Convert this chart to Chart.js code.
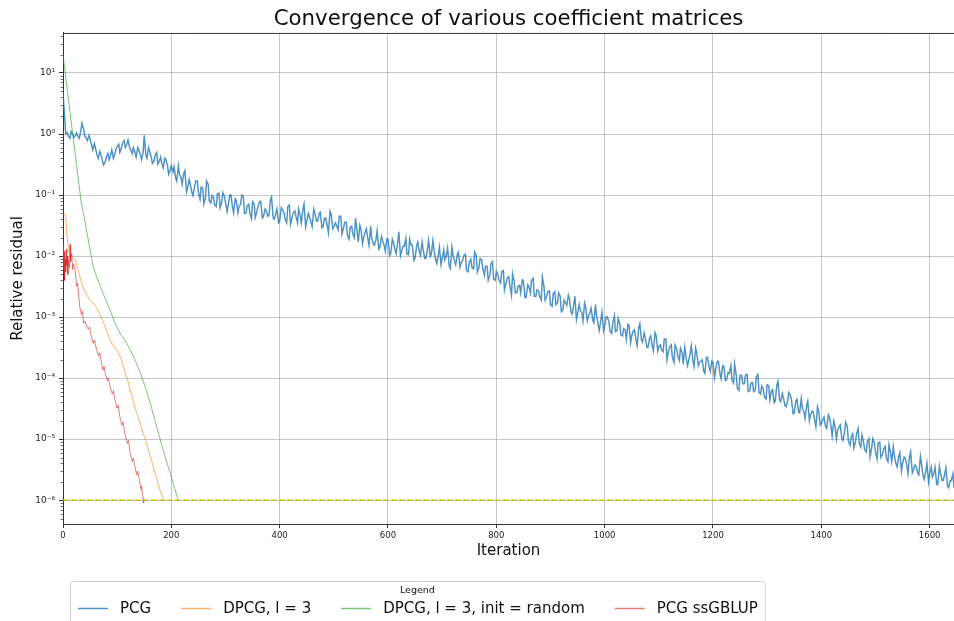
<!DOCTYPE html>
<html>
<head>
<meta charset="utf-8">
<script src="https://cdn.jsdelivr.net/npm/chart.js@4.4.1/dist/chart.umd.min.js"></script>
<style>
  html, body { margin: 0; padding: 0; background: #fff; }
  #wrap { width: 954px; height: 621px; position: relative; }
</style>
</head>
<body>
<div id="wrap"><canvas id="c" width="954" height="621"></canvas></div>
<script>
// ---- data -------------------------------------------------------------
const seriesLabels = ['PCG', 'DPCG, l = 3', 'DPCG, l = 3, init = random', 'PCG ssGBLUP'];
const seriesColors = ['rgba(31,119,180,0.8)', 'rgba(255,127,14,0.62)', 'rgba(44,160,44,0.62)', 'rgba(214,39,40,0.6)'];
const seriesWidths = [1.45, 1, 1, 1];

// PCG relative residual: one record at iterations 0, 5, 10, ... and one at 3, 8, 13, ...
const pcgStep = 5;
const pcgOffset = 3;
const pcgResidual = [
  4.6, 1.0, 0.92, 1.1, 0.88, 1.05, 0.85, 1.5, 0.95, 0.78,
  0.82, 0.55, 0.58, 0.4, 0.46, 0.31, 0.42, 0.38, 0.55, 0.45,
  0.62, 0.5, 0.72, 0.6, 0.8, 0.55, 0.6, 0.42, 0.55, 0.38,
  0.95, 0.4, 0.52, 0.33, 0.45, 0.32, 0.42, 0.28, 0.38, 0.22,
  0.3,
  2.9e-1, 1.7e-1, 2.2e-1, 1.5e-1, 2.5e-1, 1.3e-1, 1.5e-1, 9.8e-2, 1.7e-1, 1.1e-1,
  1.35e-1, 7.2e-2, 1.7e-1, 8.1e-2, 9.8e-2, 6.9e-2, 1.05e-1, 6.2e-2, 1.1e-1, 7.6e-2,
  6.9e-2, 1.0e-1, 5.1e-2, 8.1e-2, 6.5e-2, 1.0e-1, 5.0e-2, 6.6e-2, 5.1e-2, 7.8e-2,
  4.3e-2, 6.5e-2, 7.9e-2, 4.4e-2, 5.6e-2, 4.6e-2, 9.3e-2, 4.0e-2, 5.9e-2, 3.7e-2,
  5.8e-2, 4.0e-2, 6.5e-2, 3.3e-2, 5.1e-2, 4.5e-2, 5.9e-2, 3.5e-2, 7.1e-2, 3.7e-2,
  4.4e-2, 3.0e-2, 5.1e-2, 3.7e-2, 5.2e-2, 3.0e-2, 4.2e-2, 2.4e-2, 4.9e-2, 3.0e-2,
  3.2e-2, 4.5e-2, 2.3e-2, 3.6e-2, 2.2e-2, 2.9e-2, 2.3e-2, 4.2e-2, 1.7e-2, 2.8e-2,
  2.0e-2, 2.8e-2, 1.5e-2, 2.0e-2, 1.5e-2, 2.6e-2, 1.4e-2, 1.8e-2, 1.2e-2, 1.9e-2,
  1.1e-2, 1.7e-2, 1.1e-2, 2.5e-2, 1.2e-2, 1.45e-2, 1.07e-2, 1.9e-2, 1.5e-2, 9.3e-3,
  1.7e-2, 1.02e-2, 1.26e-2, 9.1e-3, 1.8e-2, 1.07e-2, 1.26e-2, 7.6e-3, 1.4e-2, 9.1e-3,
  8.7e-3, 1.35e-2, 6.3e-3, 1.05e-2, 7.2e-3, 1.15e-2, 7.8e-3, 1.02e-2, 5.8e-3, 7.9e-3,
  6.5e-3, 1.17e-2, 5.5e-3, 9.1e-3, 6.3e-3, 6.8e-3, 4.0e-3, 7.4e-3, 4.2e-3, 5.6e-3,
  4.0e-3, 5.6e-3, 2.8e-3, 4.3e-3, 3.3e-3, 5.1e-3, 2.5e-3, 3.2e-3, 2.5e-3, 3.9e-3,
  2.1e-3, 3.2e-3, 4.0e-3, 2.2e-3, 2.8e-3, 2.2e-3, 4.5e-3, 1.9e-3, 2.6e-3, 1.6e-3,
  2.4e-3, 1.6e-3, 2.5e-3, 1.23e-3, 1.9e-3, 1.55e-3, 2.0e-3, 1.12e-3, 2.2e-3, 1.12e-3,
  1.29e-3, 8.7e-4, 1.45e-3, 1.02e-3, 1.41e-3, 8.1e-4, 1.07e-3, 6.0e-4, 1.2e-3, 7.2e-4,
  1.0e-3, 5.8e-4, 7.9e-4, 5.8e-4, 9.5e-4, 5.1e-4, 6.5e-4, 4.3e-4, 7.4e-4, 4.9e-4,
  6.2e-4, 3.4e-4, 7.8e-4, 3.9e-4, 4.6e-4, 3.2e-4, 4.9e-4, 2.8e-4, 5.0e-4, 3.3e-4,
  2.9e-4, 4.4e-4, 2.0e-4, 3.2e-4, 2.2e-4, 3.5e-4, 2.3e-4, 3.1e-4, 1.7e-4, 2.3e-4,
  1.9e-4, 3.4e-4, 1.55e-4, 2.6e-4, 1.8e-4, 2.0e-4, 1.2e-4, 2.2e-4, 1.3e-4, 1.8e-4,
  1.4e-4, 1.9e-4, 9.8e-5, 1.55e-4, 9.3e-5, 1.2e-4, 9.3e-5, 1.7e-4, 6.8e-5, 1.12e-4,
  8.1e-5, 1.12e-4, 6.0e-5, 8.3e-5, 6.0e-5, 1.05e-4, 5.8e-5, 7.4e-5, 4.9e-5, 7.8e-5,
  4.4e-5, 6.5e-5, 4.2e-5, 8.9e-5, 4.1e-5, 4.8e-5, 3.4e-5, 5.8e-5, 4.4e-5, 2.7e-5,
  4.5e-5, 2.7e-5, 3.2e-5, 2.2e-5, 4.2e-5, 2.5e-5, 2.8e-5, 1.6e-5, 3.0e-5, 1.8e-5,
  2.3e-5, 1.5e-5, 2.3e-5, 1.12e-5, 1.7e-5, 1.4e-5, 1.7e-5, 9.5e-6, 1.9e-5, 9.3e-6,
  1.07e-5, 7.2e-6, 1.2e-5, 8.5e-6, 1.17e-5, 6.8e-6, 9.1e-6, 5.1e-6, 1.02e-5, 6.2e-6,
  8.7e-6, 5.0e-6, 6.9e-6, 4.9e-6, 8.1e-6, 4.3e-6, 5.2e-6, 3.5e-6, 6.0e-6, 4.0e-6,
  4.9e-6, 2.7e-6, 6.2e-6, 3.1e-6, 3.6e-6, 2.6e-6, 3.9e-6, 2.2e-6, 4.0e-6, 2.7e-6,
  2.4e-6, 3.5e-6, 1.8e-6, 2.8e-6, 2.1e-6, 3.4e-6, 1.6e-6, 2.1e-6, 1.6e-6
];
const pcgResidualOffset = [
  2.0, 1.05, 0.85, 1.0, 0.95, 0.9, 1.15, 1.2, 0.85, 0.95,
  0.65, 0.7, 0.45, 0.52, 0.36, 0.35, 0.48, 0.45, 0.4, 0.58,
  0.68, 0.6, 0.78, 0.68, 0.6, 0.48, 0.5, 0.6, 0.45, 0.5,
  0.45, 0.6, 0.42, 0.36, 0.5, 0.36, 0.32, 0.4, 0.3, 0.26,
  0.24,
  1.9e-1, 3.0e-1, 1.9e-1, 2.3e-1, 1.12e-1, 1.8e-1, 1.1e-1, 1.4e-1, 1.7e-1, 8.5e-2,
  1.3e-1, 9.1e-2, 1.5e-1, 7.4e-2, 9.1e-2, 6.5e-2, 1.07e-1, 7.6e-2, 9.5e-2, 5.4e-2,
  1.0e-1, 6.3e-2, 8.7e-2, 5.1e-2, 7.1e-2, 9.5e-2, 5.1e-2, 7.1e-2, 4.1e-2, 7.1e-2,
  5.4e-2, 7.8e-2, 4.2e-2, 5.9e-2, 4.5e-2, 8.5e-2, 4.2e-2, 5.0e-2, 3.5e-2, 6.2e-2,
  5.1e-2, 3.5e-2, 6.9e-2, 4.2e-2, 5.5e-2, 3.5e-2, 4.6e-2, 5.9e-2, 3.0e-2, 5.0e-2,
  3.5e-2, 5.9e-2, 3.7e-2, 5.0e-2, 2.9e-2, 4.2e-2, 3.1e-2, 5.4e-2, 2.8e-2, 3.5e-2,
  2.7e-2, 4.5e-2, 2.9e-2, 3.6e-2, 1.9e-2, 3.1e-2, 2.0e-2, 2.6e-2, 3.2e-2, 1.6e-2,
  2.5e-2, 1.9e-2, 3.1e-2, 1.55e-2, 1.9e-2, 1.3e-2, 2.1e-2, 1.5e-2, 1.9e-2, 1.02e-2,
  1.9e-2, 1.26e-2, 1.7e-2, 1.02e-2, 1.45e-2, 1.95e-2, 1.05e-2, 1.5e-2, 8.5e-3, 1.5e-2,
  1.17e-2, 1.7e-2, 9.1e-3, 1.3e-2, 9.8e-3, 1.8e-2, 8.7e-3, 1.05e-2, 7.2e-3, 1.26e-2,
  1.05e-2, 6.9e-3, 1.4e-2, 8.1e-3, 1.07e-2, 6.6e-3, 8.5e-3, 1.07e-2, 5.5e-3, 8.9e-3,
  6.2e-3, 1.02e-2, 6.5e-3, 8.7e-3, 4.9e-3, 6.8e-3, 4.8e-3, 8.1e-3, 4.0e-3, 4.9e-3,
  3.6e-3, 5.8e-3, 3.6e-3, 4.6e-3, 2.3e-3, 3.8e-3, 2.5e-3, 3.3e-3, 4.1e-3, 2.1e-3,
  3.4e-3, 2.5e-3, 4.3e-3, 2.2e-3, 2.7e-3, 1.9e-3, 3.2e-3, 2.2e-3, 2.7e-3, 1.5e-3,
  2.6e-3, 1.7e-3, 2.2e-3, 1.3e-3, 1.7e-3, 2.3e-3, 1.2e-3, 1.6e-3, 9.1e-4, 1.6e-3,
  1.17e-3, 1.7e-3, 8.7e-4, 1.2e-3, 8.9e-4, 1.6e-3, 7.6e-4, 8.9e-4, 6.0e-4, 1.02e-3,
  8.3e-4, 5.4e-4, 1.05e-3, 6.0e-4, 7.8e-4, 4.9e-4, 6.2e-4, 7.6e-4, 3.8e-4, 6.0e-4,
  4.1e-4, 6.8e-4, 4.2e-4, 5.5e-4, 3.2e-4, 4.5e-4, 3.3e-4, 5.6e-4, 2.8e-4, 3.5e-4,
  2.7e-4, 4.4e-4, 2.8e-4, 3.5e-4, 1.8e-4, 3.0e-4, 1.95e-4, 2.6e-4, 3.2e-4, 1.6e-4,
  2.6e-4, 1.9e-4, 3.1e-4, 1.6e-4, 1.9e-4, 1.3e-4, 2.2e-4, 1.5e-4, 1.9e-4, 1.02e-4,
  1.9e-4, 1.17e-4, 1.6e-4, 9.1e-5, 1.23e-4, 1.6e-4, 8.3e-5, 1.12e-4, 6.3e-5, 1.1e-4,
  8.1e-5, 1.15e-4, 6.2e-5, 8.5e-5, 6.3e-5, 1.15e-4, 5.5e-5, 6.6e-5, 4.5e-5, 7.6e-5,
  6.2e-5, 4.0e-5, 7.8e-5, 4.4e-5, 5.6e-5, 3.5e-5, 4.3e-5, 5.2e-5, 2.6e-5, 4.2e-5,
  2.8e-5, 4.6e-5, 2.8e-5, 3.6e-5, 2.0e-5, 2.9e-5, 2.0e-5, 3.4e-5, 1.7e-5, 2.1e-5,
  1.6e-5, 2.5e-5, 1.6e-5, 2.0e-5, 1.0e-5, 1.6e-5, 1.02e-5, 1.3e-5, 1.6e-5, 7.9e-6,
  1.23e-5, 8.9e-6, 1.5e-5, 7.4e-6, 8.9e-6, 6.2e-6, 1.02e-5, 7.1e-6, 8.7e-6, 4.8e-6,
  8.9e-6, 5.6e-6, 7.6e-6, 4.3e-6, 5.8e-6, 7.6e-6, 3.9e-6, 5.2e-6, 3.0e-6, 5.1e-6,
  3.7e-6, 5.2e-6, 2.8e-6, 3.8e-6, 2.8e-6, 5.2e-6, 2.5e-6, 3.0e-6, 2.0e-6, 3.5e-6,
  2.8e-6, 1.8e-6, 3.6e-6, 2.1e-6, 2.7e-6, 1.7e-6, 2.1e-6, 2.7e-6
];

// deflated PCG, l = 3
const dpcgIter = [0, 3, 5, 7, 10, 14, 18, 22, 28, 33, 37, 44, 50, 56, 62, 68, 73, 78, 83, 87,
  93, 99, 104, 108, 114, 119, 124, 130, 136, 142, 148, 153, 158, 164, 170, 175, 179, 183, 187];
const dpcgResidual = [5.0e-2, 4.9e-2, 4.5e-2, 2.4e-2, 1.26e-2, 1.05e-2, 9.5e-3, 8.9e-3, 5.9e-3, 4.0e-3,
  3.1e-3, 2.3e-3, 1.9e-3, 1.7e-3, 1.45e-3, 1.12e-3, 8.9e-4, 6.9e-4, 5.2e-4, 4.2e-4,
  3.4e-4, 2.9e-4, 2.4e-4, 2.0e-4, 1.3e-4, 9.5e-5, 6.3e-5, 4.1e-5, 2.7e-5, 1.9e-5,
  1.26e-5, 9.1e-6, 6.6e-6, 4.3e-6, 2.75e-6, 1.95e-6, 1.45e-6, 1.17e-6, 9.8e-7];

// deflated PCG, l = 3, random initial guess
const dpcgRandIter = [0, 18, 33, 41, 50, 56, 62, 74, 87, 96, 105, 118, 133, 142, 152, 161, 173, 185, 198, 210, 213];
const dpcgRandResidual = [20, 1.0, 8.3e-2, 3.5e-2, 1.26e-2, 6.6e-3, 4.6e-3, 2.45e-3, 1.29e-3, 7.9e-4,
  5.5e-4, 3.7e-4, 2.0e-4, 1.26e-4, 7.2e-5, 3.9e-5, 1.58e-5, 6.6e-6, 2.75e-6, 1.2e-6, 1.0e-6];

// PCG on the ssGBLUP system
const ssgblupIter = [0, 1, 2, 3, 4, 5, 6, 7, 8, 9, 10, 12, 13, 14, 16, 18, 19, 22, 25, 27,
  31, 34, 36, 38, 41, 44, 47, 49, 52, 56, 58, 62, 66, 68, 71, 74, 76, 78, 82, 84,
  87, 91, 93, 96, 100, 102, 105, 109, 111, 114, 119, 121, 124, 128, 130, 133, 136, 138, 142, 144,
  145, 148, 149];
const ssgblupResidual = [1.6e-2, 6.0e-3, 1.2e-2, 4.0e-3, 9.0e-3, 5.5e-3, 1.3e-2, 7.0e-3, 1.0e-2, 5.0e-3, 8.5e-3,
  6.5e-3, 1.55e-2, 8.0e-3, 1.1e-2, 6.0e-3, 7.5e-3, 6.5e-3, 3.2e-3, 3.6e-3,
  1.45e-3, 1.1e-3, 1.25e-3, 7.9e-4, 8.6e-4, 6.9e-4, 6.3e-4, 6.9e-4, 4.9e-4, 3.7e-4,
  4.2e-4, 2.9e-4, 2.3e-4, 2.6e-4, 1.8e-4, 1.35e-4, 1.55e-4, 1.2e-4, 9.0e-5, 1.0e-4,
  7.1e-5, 5.5e-5, 6.2e-5, 4.4e-5, 3.2e-5, 3.6e-5, 2.3e-5, 1.7e-5, 1.9e-5, 1.26e-5,
  8.5e-6, 9.5e-6, 5.9e-6, 4.3e-6, 4.9e-6, 3.5e-6, 2.6e-6, 3.0e-6, 1.9e-6, 1.5e-6,
  1.7e-6, 1.05e-6, 9.0e-7];

// stopping tolerance
const tolerance = 1e-6;

// axes
const xMin = 0, xMax = 1645;
const yMin = 4.07e-7, yMax = 45.3;
const xTicks = [0, 200, 400, 600, 800, 1000, 1200, 1400, 1600];
const yTickExponents = [-6, -5, -4, -3, -2, -1, 0, 1];

// ---- helpers ------------------------------------------------------------
const FONT = "'DejaVu Sans', 'Liberation Sans', sans-serif";
Chart.defaults.font.family = FONT;
Chart.defaults.color = '#222';

const SUP = { '-': '\u207B', '0': '\u2070', '1': '\u00B9', '2': '\u00B2', '3': '\u00B3',
  '4': '\u2074', '5': '\u2075', '6': '\u2076', '7': '\u2077', '8': '\u2078', '9': '\u2079' };
const superscript = s => String(s).split('').map(c => SUP[c] || c).join('');

const toPoints = (xs, ys) => ys.map((y, k) => ({ x: xs[k], y }));

// merge the two PCG records into one iteration-ordered list
const pcgPoints = [];
pcgResidual.forEach((r, k) => {
  pcgPoints.push({ x: k * pcgStep, y: r });
  if (k < pcgResidualOffset.length) pcgPoints.push({ x: k * pcgStep + pcgOffset, y: pcgResidualOffset[k] });
});

const gridColor = 'rgba(176,176,176,0.72)';
const axisColor = '#333';

// top spine of the axes box
const framePlugin = {
  id: 'frame',
  afterDraw(chart) {
    const { ctx, chartArea: a } = chart;
    ctx.save();
    ctx.strokeStyle = axisColor;
    ctx.lineWidth = 1;
    ctx.beginPath();
    ctx.moveTo(a.left, a.top + 0.5);
    ctx.lineTo(a.right, a.top + 0.5);
    ctx.stroke();
    ctx.restore();
  }
};

// minor ticks on the logarithmic axis
const minorTicksPlugin = {
  id: 'minorTicks',
  afterDraw(chart) {
    const { ctx, scales: { y } } = chart;
    ctx.save();
    ctx.strokeStyle = axisColor;
    ctx.lineWidth = 0.7;
    for (let e = -7; e <= 1; e++) {
      for (let m = 2; m <= 9; m++) {
        const v = m * Math.pow(10, e);
        if (v < yMin || v > yMax) continue;
        const py = Math.round(y.getPixelForValue(v)) + 0.5;
        ctx.beginPath();
        ctx.moveTo(y.right - 2.5, py);
        ctx.lineTo(y.right, py);
        ctx.stroke();
      }
    }
    ctx.restore();
  }
};

// legend box under the axes, one row
const legendPlugin = {
  id: 'rowLegend',
  afterDraw(chart) {
    const { ctx } = chart;
    const items = chart.data.datasets.filter(d => seriesLabels.includes(d.label));
    const handleLen = 30, handleGap = 12, colGap = 30;
    const startX = 78, rowY = 608, boxLeft = 70, boxTop = 581;
    ctx.save();
    ctx.font = '15px ' + FONT;
    let total = 0;
    items.forEach((d, i) => {
      total += handleLen + handleGap + ctx.measureText(d.label).width + (i < items.length - 1 ? colGap : 0);
    });
    const boxRight = startX + total + 7;
    // frame
    ctx.fillStyle = 'rgba(255,255,255,0.8)';
    ctx.strokeStyle = '#d0d0d0';
    ctx.lineWidth = 1;
    const r = 3, l = boxLeft + 0.5, t = boxTop + 0.5, w = boxRight - boxLeft, h = 80;
    ctx.beginPath();
    ctx.moveTo(l + r, t);
    ctx.lineTo(l + w - r, t);
    ctx.arcTo(l + w, t, l + w, t + r, r);
    ctx.lineTo(l + w, t + h);
    ctx.lineTo(l, t + h);
    ctx.lineTo(l, t + r);
    ctx.arcTo(l, t, l + r, t, r);
    ctx.closePath();
    ctx.fill();
    ctx.stroke();
    // title
    ctx.fillStyle = '#111';
    ctx.font = '9.5px ' + FONT;
    ctx.textAlign = 'center';
    ctx.textBaseline = 'middle';
    ctx.fillText('Legend', (boxLeft + boxRight) / 2, 591);
    // entries
    ctx.font = '15px ' + FONT;
    ctx.textAlign = 'left';
    let x = startX;
    items.forEach(d => {
      ctx.strokeStyle = d.borderColor;
      ctx.lineWidth = 1.5;
      ctx.beginPath();
      ctx.moveTo(x, rowY + 0.5);
      ctx.lineTo(x + handleLen, rowY + 0.5);
      ctx.stroke();
      ctx.fillStyle = '#111';
      ctx.fillText(d.label, x + handleLen + handleGap, rowY + 1);
      x += handleLen + handleGap + ctx.measureText(d.label).width + colGap;
    });
    ctx.restore();
  }
};

// ---- chart --------------------------------------------------------------
const seriesPoints = [
  pcgPoints,
  toPoints(dpcgIter, dpcgResidual),
  toPoints(dpcgRandIter, dpcgRandResidual),
  toPoints(ssgblupIter, ssgblupResidual)
];

const datasets = seriesPoints.map((pts, i) => ({
  label: seriesLabels[i],
  data: pts,
  borderColor: seriesColors[i],
  borderWidth: seriesWidths[i],
  pointRadius: 0,
  tension: 0,
  fill: false,
  order: 4 - i
}));
datasets.push({
  label: 'tolerance',
  data: [{ x: xMin, y: tolerance }, { x: xMax, y: tolerance }],
  borderColor: 'rgba(196,190,20,0.95)',
  borderWidth: 1.5,
  borderDash: [5.5, 2.5],
  pointRadius: 0,
  fill: false,
  order: 0
});

new Chart(document.getElementById('c').getContext('2d'), {
  type: 'line',
  data: { datasets },
  options: {
    responsive: false,
    animation: false,
    devicePixelRatio: 1,
    layout: { padding: { left: 0, right: 0, top: 0, bottom: 57 } },
    plugins: {
      legend: { display: false },
      tooltip: { enabled: false },
      title: {
        display: true,
        fullSize: false,
        text: 'Convergence of various coefficient matrices',
        color: '#111',
        font: { size: 21.3, weight: 'normal', family: FONT },
        padding: { top: 6.6, bottom: 0.8 }
      }
    },
    scales: {
      x: {
        type: 'linear',
        min: xMin,
        max: xMax,
        afterBuildTicks(scale) { scale.ticks = xTicks.map(v => ({ value: v })); },
        afterFit(scale) { scale.height = 40; },
        ticks: { font: { size: 8.5 }, color: '#222', padding: 3, maxRotation: 0, autoSkip: false,
          callback: v => String(v) },
        grid: { color: gridColor, lineWidth: 1, tickColor: axisColor, tickLength: 4 },
        border: { color: axisColor, width: 1 },
        title: { display: true, text: 'Iteration', color: '#111', font: { size: 15 }, padding: { top: 0, bottom: 4 } }
      },
      y: {
        type: 'logarithmic',
        min: yMin,
        max: yMax,
        afterBuildTicks(scale) { scale.ticks = yTickExponents.map(e => ({ value: Math.pow(10, e) })); },
        afterFit(scale) { scale.width = 63; },
        ticks: {
          font: { size: 9 },
          color: '#222',
          padding: 4,
          autoSkip: false,
          callback: v => '10' + superscript(Math.round(Math.log10(v)))
        },
        grid: { color: gridColor, lineWidth: 1, tickColor: axisColor, tickLength: 4 },
        border: { color: axisColor, width: 1 },
        title: { display: true, text: 'Relative residual', color: '#111', font: { size: 15 }, padding: { top: 9, bottom: 0 } }
      }
    }
  },
  plugins: [framePlugin, minorTicksPlugin, legendPlugin]
});
</script>
</body>
</html>
